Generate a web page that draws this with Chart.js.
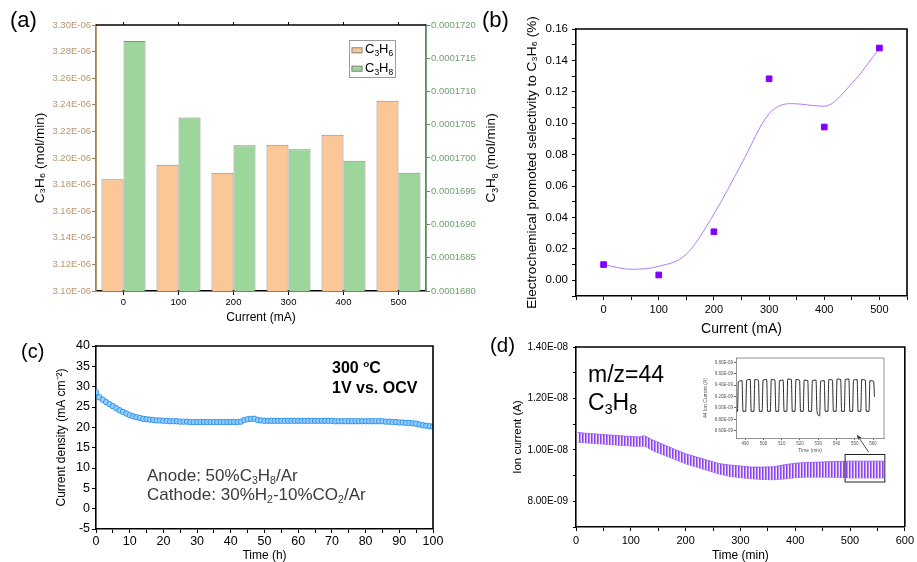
<!DOCTYPE html>
<html lang="en">
<head>
<meta charset="UTF-8">
<meta name="viewport" content="width=device-width, initial-scale=1.0">
<title>Propane dehydrogenation - four panels</title>
<style>
  body { margin: 0; background: #fff; }
  #fig { position: relative; width: 917px; height: 562px; overflow: hidden; font-family: Arial, "Liberation Sans", sans-serif; }
  #fig canvas { position: absolute; left: 0; top: 0; }
  .txt { position: absolute; white-space: nowrap; }
  .txt sub, .txt sup { font-size: 0.62em; line-height: 0; position: relative; vertical-align: baseline; }
  .txt sub { top: 0.28em; }
  .txt sup { top: -0.62em; }
</style>
</head>
<body>
<div id="fig">
  <canvas id="chartA" width="917" height="562"></canvas>
  <canvas id="chartB" width="917" height="562"></canvas>
  <canvas id="chartC" width="917" height="562"></canvas>
  <canvas id="chartD" width="917" height="562"></canvas>
  <canvas id="chartInset" width="917" height="562"></canvas>
  <div class="txt" style="left:10px;top:9px;font-size:22px;line-height:22px">(a)</div>
  <div class="txt" style="left:482px;top:9px;font-size:22px;line-height:22px">(b)</div>
  <div class="txt" style="left:21px;top:341px;font-size:20px;line-height:20px">(c)</div>
  <div class="txt" style="left:490px;top:335px;font-size:20.5px;line-height:20.5px">(d)</div>
  <div class="txt" style="left:332px;top:358px;font-size:16px;line-height:20px;font-weight:bold">300 <sup>o</sup>C<br>1V vs. OCV</div>
  <div class="txt" style="left:147px;top:466px;font-size:17px;line-height:19px;color:#3a3a3a">Anode: 50%C<sub>3</sub>H<sub>8</sub>/Ar<br>Cathode: 30%H<sub>2</sub>-10%CO<sub>2</sub>/Ar</div>
  <div class="txt" style="left:588px;top:360px;font-size:23px;line-height:28px">m/z=44<br>C<sub>3</sub>H<sub>8</sub></div>
</div>
<script src="https://cdn.jsdelivr.net/npm/chart.js"></script>
<script>
  // (a) production rates vs current
  const currentLabels = ['0', '100', '200', '300', '400', '500'];
  const seriesNames = ['C3H6', 'C3H8'];
  const rightTitleA = 'C3H8 (mol/min)';
  const propyleneRate = [3.184e-6, 3.195e-6, 3.189e-6, 3.210e-6, 3.2175e-6, 3.243e-6];
  const propaneRate = [1.7176e-4, 1.7061e-4, 1.7019e-4, 1.7013e-4, 1.6996e-4, 1.6978e-4];

  // (b) promoted selectivity, points + fitted curve
  const selCurrent = [0, 100, 200, 300, 400, 500];
  const selectivity = [0.0100, 0.0034, 0.0309, 0.1283, 0.0976, 0.1479];
  const fitCurrent = [0, 50, 100, 150, 200, 250, 300, 340, 400, 450, 500];
  const fitSelectivity = [0.0100, 0.0070, 0.0089, 0.0166, 0.0422, 0.0741, 0.1061, 0.1125, 0.1108, 0.1253, 0.1476];

  // (c) stability test
  const timeHours = [
    0, 1, 2, 3, 4, 5, 6, 7, 8, 9,
    10, 11, 12, 13, 14, 15, 16, 17, 18, 19,
    20, 21, 22, 23, 24, 25, 26, 27, 28, 29,
    30, 31, 32, 33, 34, 35, 36, 37, 38, 39,
    40, 41, 42, 43, 44, 45, 46, 47, 48, 49,
    50, 51, 52, 53, 54, 55, 56, 57, 58, 59,
    60, 61, 62, 63, 64, 65, 66, 67, 68, 69,
    70, 71, 72, 73, 74, 75, 76, 77, 78, 79,
    80, 81, 82, 83, 84, 85, 86, 87, 88, 89,
    90, 91, 92, 93, 94, 95, 96, 97, 98, 99,
    100];
  const currentDensity = [
    28.6, 27.4, 26.8, 26.2, 25.7, 25.2, 24.7, 24.2, 23.8, 23.4,
    23.0, 22.7, 22.5, 22.3, 22.1, 22.0, 21.9, 21.8, 21.7, 21.7,
    21.6, 21.6, 21.5, 21.5, 21.5, 21.4, 21.4, 21.4, 21.3, 21.3,
    21.3, 21.3, 21.3, 21.3, 21.3, 21.3, 21.3, 21.3, 21.3, 21.3,
    21.3, 21.3, 21.3, 21.4, 21.8, 22.0, 22.1, 22.1, 21.8, 21.7,
    21.6, 21.6, 21.6, 21.6, 21.6, 21.6, 21.6, 21.6, 21.6, 21.6,
    21.6, 21.6, 21.6, 21.6, 21.6, 21.6, 21.6, 21.6, 21.6, 21.6,
    21.6, 21.5, 21.5, 21.5, 21.5, 21.5, 21.5, 21.5, 21.5, 21.5,
    21.5, 21.5, 21.5, 21.5, 21.5, 21.5, 21.4, 21.4, 21.3, 21.3,
    21.2, 21.2, 21.1, 21.1, 21.0, 20.9, 20.7, 20.5, 20.4, 20.3,
    20.2];

  // (d) m/z=44 signal, upper and lower edge of the oscillation band
  const msTime = [3, 20, 40, 60, 80, 100, 115, 125, 140, 160, 180, 200, 220, 240, 260, 280, 300, 320, 340, 360, 380, 400, 420, 440, 460, 480, 500, 520, 540, 562];
  const ionUpper = [10.68e-9, 10.64e-9, 10.61e-9, 10.58e-9, 10.55e-9, 10.52e-9, 10.50e-9, 10.55e-9, 10.38e-9, 10.20e-9, 10.02e-9, 9.85e-9, 9.72e-9, 9.60e-9, 9.47e-9, 9.41e-9, 9.37e-9, 9.33e-9, 9.33e-9, 9.34e-9, 9.42e-9, 9.48e-9, 9.51e-9, 9.52e-9, 9.54e-9, 9.55e-9, 9.56e-9, 9.56e-9, 9.56e-9, 9.56e-9];
  const ionLower = [10.30e-9, 10.27e-9, 10.24e-9, 10.21e-9, 10.18e-9, 10.15e-9, 10.14e-9, 10.15e-9, 9.97e-9, 9.80e-9, 9.63e-9, 9.46e-9, 9.33e-9, 9.20e-9, 9.07e-9, 8.97e-9, 8.92e-9, 8.88e-9, 8.85e-9, 8.84e-9, 8.87e-9, 8.92e-9, 8.94e-9, 8.94e-9, 8.94e-9, 8.93e-9, 8.91e-9, 8.91e-9, 8.91e-9, 8.91e-9];

  // (d) inset, 485-566 min
  const insetTime = [485.3,
    485.8, 486.3, 488.3, 488.8,  490.3, 490.8, 492.8, 493.3,
    494.8, 495.3, 497.3, 497.8,  499.3, 499.8, 501.8, 502.3,
    503.8, 504.3, 506.3, 506.8,  508.3, 508.8, 510.8, 511.3,
    512.8, 513.3, 515.3, 515.8,  517.3, 517.8, 519.8, 520.3,
    521.8, 522.3, 524.3, 524.8,  526.3, 526.8, 528.8, 529.3,
    530.8, 531.3, 533.3, 533.8,  535.3, 535.8, 537.8, 538.3,
    539.8, 540.3, 542.3, 542.8,  544.3, 544.8, 546.8, 547.3,
    548.8, 549.3, 551.3, 551.8,  553.3, 553.8, 555.8, 556.3,
    557.8, 558.3, 560.3, 560.8];
  const insetCurrent = [8.95e-9,
    8.94e-9, 9.46e-9, 9.48e-9, 8.94e-9,  8.94e-9, 9.49e-9, 9.50e-9, 8.94e-9,
    8.94e-9, 9.50e-9, 9.49e-9, 8.94e-9,  8.94e-9, 9.49e-9, 9.50e-9, 8.94e-9,
    8.94e-9, 9.50e-9, 9.49e-9, 8.94e-9,  8.94e-9, 9.48e-9, 9.49e-9, 8.94e-9,
    8.94e-9, 9.51e-9, 9.50e-9, 8.94e-9,  8.94e-9, 9.50e-9, 9.49e-9, 8.94e-9,
    8.94e-9, 9.49e-9, 9.48e-9, 8.94e-9,  8.94e-9, 9.48e-9, 9.49e-9, 8.94e-9,
    8.86e-9, 9.47e-9, 9.48e-9, 8.94e-9,  8.94e-9, 9.50e-9, 9.49e-9, 8.94e-9,
    8.94e-9, 9.51e-9, 9.50e-9, 8.94e-9,  8.94e-9, 9.50e-9, 9.51e-9, 8.94e-9,
    8.94e-9, 9.49e-9, 9.50e-9, 8.94e-9,  8.94e-9, 9.50e-9, 9.49e-9, 8.94e-9,
    8.94e-9, 9.48e-9, 9.47e-9, 9.20e-9];

  // zoom box on the main (d) trace and arrow toward the inset
  const zoomTime = [491, 563.5];
  const zoomIon = [8.75e-9, 9.82e-9];
  const arrowTime = [534, 513];
  const arrowIon = [9.91e-9, 10.58e-9];

  Chart.defaults.font.family = 'Arial, "Liberation Sans", sans-serif';
  Chart.defaults.color = '#000';
  Chart.defaults.animation = false;
  Chart.defaults.events = [];
  Chart.defaults.plugins.legend.display = false;
  Chart.defaults.plugins.tooltip.enabled = false;

  function sci(v) {
    return v.toExponential(2).toUpperCase().replace(/E([+-])(\d)$/, 'E$10$2');
  }
  function pairs(xs, ys) {
    return xs.map((x, i) => ({ x: x, y: ys[i] }));
  }
  function fixWidth(w) { return s => { s.width = w; }; }
  function fixHeight(h) { return s => { s.height = h; }; }

  // draws e.g. C3H6 with the digits as subscripts, returns the width
  function drawFormula(ctx, text, x, y, size, measureOnly) {
    let w = 0;
    for (const ch of text) {
      const sub = /\d/.test(ch);
      ctx.font = (sub ? size * 0.65 : size) + 'px Arial, "Liberation Sans", sans-serif';
      if (!measureOnly) ctx.fillText(ch, x + w, sub ? y + size * 0.22 : y);
      w += ctx.measureText(ch).width;
    }
    return w;
  }

  function frame(color, width) {
    return {
      id: 'frame',
      afterDraw(chart) {
        const { ctx, chartArea: a } = chart;
        ctx.save();
        ctx.strokeStyle = color;
        ctx.lineWidth = width;
        ctx.beginPath();
        ctx.moveTo(a.left, a.top);
        ctx.lineTo(a.right, a.top);
        ctx.lineTo(a.right, a.bottom);
        ctx.stroke();
        ctx.restore();
      }
    };
  }

  const blackGrid = { drawOnChartArea: false, tickLength: 4, color: '#000' };
  const blackBorder = { color: '#000', width: 1.6 };

  // ---------- (a) ----------
  const tanText = '#b8966f', tanLine = '#a8804f';
  const greenText = '#6fa06f', greenLine = '#5b8c5b';

  const extrasA = {
    id: 'extrasA',
    afterDraw(chart) {
      const { ctx, chartArea: a, scales: { x, y1 } } = chart;
      ctx.save();
      ctx.strokeStyle = '#000';
      ctx.lineWidth = 1.6;
      ctx.beginPath();
      ctx.moveTo(a.left, a.top);
      ctx.lineTo(a.right, a.top);
      ctx.stroke();
      ctx.lineWidth = 1;
      x.ticks.forEach((t, i) => {
        const px = x.getPixelForTick(i);
        ctx.beginPath();
        ctx.moveTo(px, a.top);
        ctx.lineTo(px, a.top - 3);
        ctx.stroke();
      });
      // legend box
      const lx = a.right - 77, ly = a.top + 15;
      ctx.strokeStyle = '#9a9a9a';
      ctx.strokeRect(lx + 0.5, ly + 0.5, 46, 37);
      chart.data.datasets.forEach((ds, i) => {
        const base = ly + 13.3 + i * 18.4;
        ctx.fillStyle = ds.backgroundColor;
        ctx.fillRect(lx + 2.5, base - 6, 11, 6);
        ctx.strokeStyle = ds.borderColor;
        ctx.strokeRect(lx + 3, base - 5.5, 10, 5);
        ctx.fillStyle = '#000';
        drawFormula(ctx, ds.label, lx + 16, base, 13);
      });
      // right axis title, read bottom to top like the left one
      const tx = y1.right - 8, ty = (a.top + a.bottom) / 2;
      ctx.translate(tx, ty);
      ctx.rotate(-Math.PI / 2);
      const w = drawFormula(ctx, rightTitleA, 0, 0, 13.5, true);
      ctx.fillStyle = '#000';
      drawFormula(ctx, rightTitleA, -w / 2, 4.8, 13.5);
      ctx.restore();
    }
  };

  new Chart(document.getElementById('chartA'), {
    type: 'bar',
    data: {
      labels: currentLabels,
      datasets: [
        { label: seriesNames[0], data: propyleneRate, yAxisID: 'y', backgroundColor: '#fcc797', borderColor: '#8a8a8a', borderWidth: 1 },
        { label: seriesNames[1], data: propaneRate, yAxisID: 'y1', backgroundColor: '#9dd69b', borderColor: '#8a8a8a', borderWidth: 1 }
      ]
    },
    options: {
      responsive: false,
      layout: { padding: { left: 32, right: 419, top: 25, bottom: 237 } },
      datasets: { bar: { categoryPercentage: 0.8, barPercentage: 1 } },
      scales: {
        x: {
          grid: { offset: false, drawOnChartArea: false, tickLength: 4, color: '#000' },
          border: blackBorder,
          ticks: { font: { size: 9.5 }, padding: 2, maxRotation: 0 },
          title: { display: true, text: 'Current (mA)', font: { size: 12 }, padding: 0 },
          afterFit: fixHeight(34)
        },
        y: {
          position: 'left', min: 3.10e-6, max: 3.30e-6,
          grid: { drawOnChartArea: false, tickLength: 4, color: tanLine },
          border: { color: tanLine, width: 1.8 },
          ticks: { stepSize: 0.02e-6, callback: v => sci(v), color: tanText, font: { size: 9.5 }, padding: 1 },
          title: { display: true, text: 'C₃H₆ (mol/min)', font: { size: 13.5 }, padding: 0 },
          afterFit: fixWidth(64)
        },
        y1: {
          position: 'right', min: 1.680e-4, max: 1.720e-4,
          grid: { drawOnChartArea: false, tickLength: 4, color: greenLine },
          border: { color: greenLine, width: 1.8 },
          ticks: { stepSize: 0.005e-4, callback: v => v.toFixed(7), color: greenText, font: { size: 9.5 }, padding: 1 },
          afterFit: fixWidth(72)
        }
      }
    },
    plugins: [extrasA]
  });

  // ---------- (b) ----------
  new Chart(document.getElementById('chartB'), {
    type: 'scatter',
    data: {
      datasets: [
        { data: pairs(selCurrent, selectivity), pointStyle: 'rect', pointRadius: 4, backgroundColor: '#8000ff', borderColor: '#8000ff', order: 0 },
        { data: pairs(fitCurrent, fitSelectivity), showLine: true, pointRadius: 0, borderColor: '#b27cff', borderWidth: 1, cubicInterpolationMode: 'monotone', order: 1 }
      ]
    },
    options: {
      responsive: false,
      layout: { padding: { left: 524, right: 10, top: 29, bottom: 224 } },
      scales: {
        x: {
          min: -50, max: 550,
          grid: blackGrid, border: blackBorder,
          ticks: { stepSize: 50, autoSkip: false, maxRotation: 0, padding: 3, font: { size: 11 },
            callback: v => (v % 100 === 0 && v >= 0 && v <= 500) ? String(v) : '' },
          title: { display: true, text: 'Current (mA)', font: { size: 14 }, padding: 0 },
          afterFit: fixHeight(42)
        },
        y: {
          min: -0.01, max: 0.16,
          grid: blackGrid, border: blackBorder,
          ticks: { stepSize: 0.01, autoSkip: false, padding: 4, font: { size: 11.5 },
            callback: v => { const n = Math.round(v * 100); return (n % 2 === 0 && n >= 0) ? (n / 100).toFixed(2) : ''; } },
          title: { display: true, text: 'Electrochemical promoted selectivity to C₃H₆ (%)', font: { size: 13.5 }, padding: 0 },
          afterFit: fixWidth(52)
        }
      }
    },
    plugins: [frame('#000', 1.6)]
  });

  // ---------- (c) ----------
  new Chart(document.getElementById('chartC'), {
    type: 'scatter',
    data: {
      datasets: [
        { data: pairs(timeHours, currentDensity), pointRadius: 2.7, borderWidth: 1, borderColor: '#2c93ee', backgroundColor: 'rgba(150,205,255,0.9)' }
      ]
    },
    options: {
      responsive: false,
      layout: { padding: { left: 54, right: 484, top: 346, bottom: 0 } },
      scales: {
        x: {
          min: 0, max: 100,
          grid: blackGrid, border: blackBorder,
          ticks: { stepSize: 5, autoSkip: false, maxRotation: 0, padding: 1, font: { size: 12.5 },
            callback: v => v % 10 === 0 ? String(v) : '' },
          title: { display: true, text: 'Time (h)', font: { size: 12, lineHeight: 1 }, padding: 0 },
          afterFit: fixHeight(33)
        },
        y: {
          min: -5, max: 40,
          grid: blackGrid, border: blackBorder,
          ticks: { stepSize: 5, autoSkip: false, padding: 2, font: { size: 12.5 } },
          title: { display: true, text: 'Current density (mA cm⁻²)', font: { size: 12 }, padding: 0 },
          afterFit: fixWidth(42)
        }
      }
    },
    plugins: [frame('#000', 1.6)]
  });

  // ---------- (d) ----------
  const stripe = document.createElement('canvas');
  stripe.width = 3;
  stripe.height = 1;
  const sctx = stripe.getContext('2d');
  sctx.fillStyle = '#8c42f1';
  sctx.fillRect(0, 0, 1, 1);
  sctx.fillStyle = '#b58af7';
  sctx.fillRect(1, 0, 1, 1);
  sctx.fillStyle = '#eee3fd';
  sctx.fillRect(2, 0, 1, 1);
  const bandFill = document.getElementById('chartD').getContext('2d').createPattern(stripe, 'repeat');

  const zoomMarks = {
    id: 'zoomMarks',
    afterDraw(chart) {
      const { ctx, scales: { x, y } } = chart;
      ctx.save();
      ctx.strokeStyle = '#222';
      ctx.lineWidth = 1;
      const x0 = x.getPixelForValue(zoomTime[0]), x1 = x.getPixelForValue(zoomTime[1]);
      const y0 = y.getPixelForValue(zoomIon[1]), y1 = y.getPixelForValue(zoomIon[0]);
      ctx.strokeRect(x0, y0, x1 - x0, y1 - y0);
      const ax = x.getPixelForValue(arrowTime[0]), ay = y.getPixelForValue(arrowIon[0]);
      const bx = x.getPixelForValue(arrowTime[1]), by = y.getPixelForValue(arrowIon[1]);
      ctx.lineWidth = 0.8;
      ctx.beginPath();
      ctx.moveTo(ax, ay);
      ctx.lineTo(bx, by);
      ctx.stroke();
      const ang = Math.atan2(by - ay, bx - ax);
      ctx.fillStyle = '#222';
      ctx.beginPath();
      ctx.moveTo(bx, by);
      ctx.lineTo(bx - 5 * Math.cos(ang - 0.4), by - 5 * Math.sin(ang - 0.4));
      ctx.lineTo(bx - 5 * Math.cos(ang + 0.4), by - 5 * Math.sin(ang + 0.4));
      ctx.closePath();
      ctx.fill();
      ctx.restore();
    }
  };

  new Chart(document.getElementById('chartD'), {
    type: 'line',
    data: {
      datasets: [
        { data: pairs(msTime, ionUpper), borderColor: '#9550f3', borderWidth: 0.8, pointRadius: 0, fill: '+1', backgroundColor: bandFill },
        { data: pairs(msTime, ionLower), borderColor: '#9550f3', borderWidth: 0.8, pointRadius: 0, fill: false }
      ]
    },
    options: {
      responsive: false,
      layout: { padding: { left: 511, right: 8, top: 347, bottom: 0 } },
      scales: {
        x: {
          type: 'linear', min: 0, max: 600,
          grid: blackGrid, border: blackBorder,
          ticks: { stepSize: 50, autoSkip: false, maxRotation: 0, padding: 3, font: { size: 11 },
            callback: v => v % 100 === 0 ? String(v) : '' },
          title: { display: true, text: 'Time (min)', font: { size: 12, lineHeight: 1 }, padding: 0 },
          afterFit: fixHeight(35)
        },
        y: {
          min: 7e-9, max: 1.4e-8,
          grid: { drawOnChartArea: false, tickLength: 3, color: '#000' }, border: blackBorder,
          ticks: { stepSize: 1e-9, autoSkip: false, padding: 5, font: { size: 10 },
            callback: v => { const n = Math.round(v * 1e9); return (n % 2 === 0 && n >= 8) ? sci(n * 1e-9) : ''; } },
          title: { display: true, text: 'Ion current (A)', font: { size: 11.5 }, padding: 0 },
          afterFit: fixWidth(65)
        }
      }
    },
    plugins: [frame('#000', 1.6), zoomMarks]
  });

  // ---------- (d) inset ----------
  const insetGrid = { drawOnChartArea: false, tickLength: 2, color: '#666' };
  const insetBorder = { color: '#777', width: 0.8 };
  new Chart(document.getElementById('chartInset'), {
    type: 'line',
    data: {
      datasets: [
        { data: pairs(insetTime, insetCurrent), borderColor: '#111', borderWidth: 0.9, pointRadius: 0, cubicInterpolationMode: 'monotone' }
      ]
    },
    options: {
      responsive: false,
      layout: { padding: { left: 703, right: 33, top: 358, bottom: 109 } },
      scales: {
        x: {
          type: 'linear', min: 485, max: 566,
          grid: insetGrid, border: insetBorder,
          ticks: { stepSize: 10, includeBounds: false, autoSkip: false, maxRotation: 0, padding: 1, color: '#555', font: { size: 4.5 } },
          title: { display: true, text: 'Time (min)', color: '#555', font: { size: 5, lineHeight: 1 }, padding: 0 },
          afterFit: fixHeight(15)
        },
        y: {
          min: 8.47e-9, max: 9.88e-9,
          grid: insetGrid, border: insetBorder,
          ticks: { stepSize: 0.2e-9, includeBounds: false, autoSkip: false, padding: 1, color: '#555', font: { size: 4.5 },
            callback: v => sci(v) },
          title: { display: true, text: '44 Ion Current (A)', color: '#555', font: { size: 5, lineHeight: 1 }, padding: 0 },
          afterFit: fixWidth(33)
        }
      }
    },
    plugins: [frame('#777', 0.8)]
  });
</script>
</body>
</html>
